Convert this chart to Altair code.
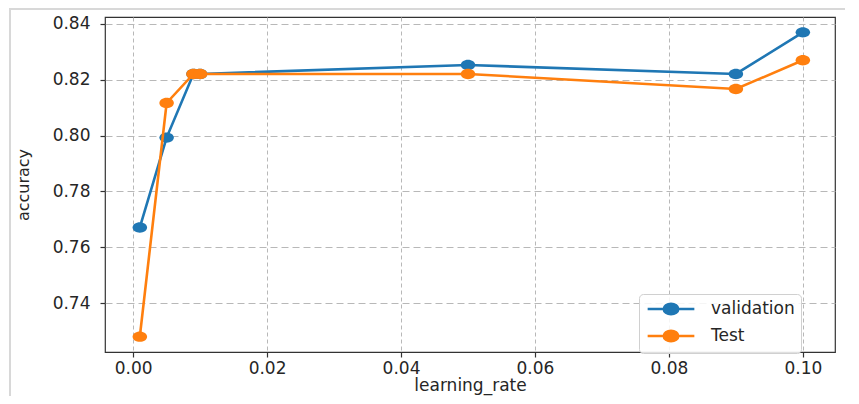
import altair as alt
import pandas as pd

learning_rate = [0.001, 0.005, 0.009, 0.01, 0.05, 0.09, 0.1]
validation = [0.7671, 0.7993, 0.8221, 0.8221, 0.8253, 0.8221, 0.8370]
test = [0.7280, 0.8117, 0.8221, 0.8221, 0.8221, 0.8167, 0.8270]
series_names = ["validation", "Test"]
series_colors = ["#1f77b4", "#ff7f0e"]
x_ticks = [0.0, 0.02, 0.04, 0.06, 0.08, 0.10]
y_ticks = [0.74, 0.76, 0.78, 0.80, 0.82, 0.84]

df_v = pd.DataFrame({"learning_rate": learning_rate, "accuracy": validation, "series": "validation"})
df_t = pd.DataFrame({"learning_rate": learning_rate, "accuracy": test, "series": "Test"})

FONT = "DejaVu Sans"
ELLIPSE = "M-1,0A1,0.72 0 1,1 1,0A1,0.72 0 1,1 -1,0Z"
LEG_SYM = "M-3.2,0L3.2,0M-1,0A1,0.72 0 1,1 1,0A1,0.72 0 1,1 -1,0Z"

xenc = alt.X("learning_rate:Q",
             scale=alt.Scale(domain=[-0.0042, 0.1048], nice=False, zero=False),
             axis=alt.Axis(values=x_ticks, format=".2f", title="learning_rate",
                           gridDash=[4, 3], titleFontSize=17, titlePadding=1, labelPadding=3))
yenc = alt.Y("accuracy:Q",
             scale=alt.Scale(domain=[0.7225, 0.8425], nice=False, zero=False),
             axis=alt.Axis(values=y_ticks, format=".2f", title="accuracy",
                           gridDash=[7, 4], titleFontSize=16, titlePadding=21, labelPadding=10))
cenc = alt.Color("series:N",
                 scale=alt.Scale(domain=series_names, range=series_colors),
                 legend=alt.Legend(title=None, orient="none", legendX=534, legendY=277,
                                   symbolType=LEG_SYM, symbolSize=213, symbolStrokeWidth=2.5,
                                   symbolOffset=17, labelOffset=31, rowPadding=5, padding=6,
                                   labelFontSize=17, labelFont=FONT, labelColor="#262626",
                                   strokeColor="#d0d0d0", fillColor="rgba(255,255,255,0.85)",
                                   cornerRadius=4, symbolOpacity=1))


def series_layers(df):
    base = alt.Chart(df).encode(x=xenc, y=yenc, color=cenc)
    line = base.mark_line(strokeWidth=2.6)
    pts = base.mark_point(shape=ELLIPSE, filled=True, size=210, opacity=1)
    return [line, pts]


frame_top = alt.Chart(df_v).mark_rule(color="#d8d8d8", strokeWidth=2).encode(
    x=alt.value(-96), x2=alt.value(760), y=alt.value(-8))
frame_left = alt.Chart(df_v).mark_rule(color="#d8d8d8", strokeWidth=2).encode(
    x=alt.value(-95), y=alt.value(-9), y2=alt.value(390))

chart = alt.layer(frame_top, frame_left, *series_layers(df_v), *series_layers(df_t)).properties(
    width=730, height=335,
    autosize=alt.AutoSizeParams(type="none"),
    padding={"left": 97, "top": 9, "right": 10, "bottom": 44},
).configure_view(
    stroke="#333333", strokeWidth=1.2
).configure_axis(
    labelFont=FONT, titleFont=FONT, labelFontSize=17, labelColor="#262626",
    titleColor="#262626", titleFontWeight="normal",
    tickColor="#333333", tickSize=5, tickWidth=1.2, domain=False,
    gridColor="#b8b8b8", gridWidth=1, gridOpacity=1
)

chart.save("out.html", embed_options={"renderer": "svg", "actions": False})
